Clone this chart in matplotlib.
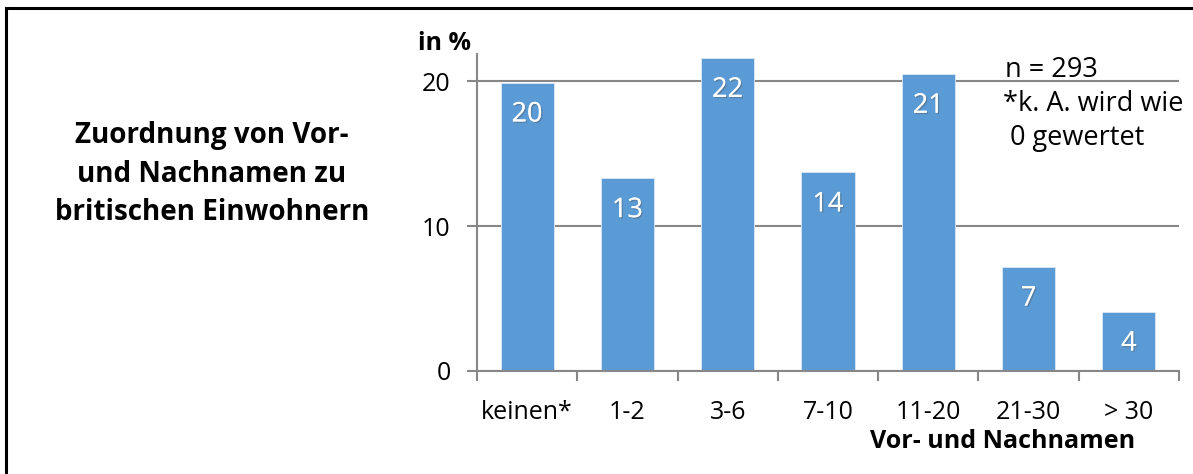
import numpy as np
import matplotlib.pyplot as plt
import matplotlib.patheffects as pe
from matplotlib.lines import Line2D

plt.rcParams['font.family'] = ['Open Sans', 'DejaVu Sans']

# Share of respondents by number of first/last names assigned
categories = ["keinen*", "1-2", "3-6", "7-10", "11-20", "21-30", "> 30"]
values = [19.9, 13.3, 21.6, 13.7, 20.5, 7.2, 4.1]
labels = ["20", "13", "22", "14", "21", "7", "4"]
yticks = [0, 10, 20]

barColour = "#5B9BD5"
gridColour = "#878787"

fig = plt.figure(figsize=(11.93, 4.74), dpi=100)
ax = fig.add_axes([0.3998, 0.2173, 0.5885, 0.6698])

x = np.arange(len(categories))
ax.bar(x, values, width=0.53, color=barColour, edgecolor="#DCE8F5", linewidth=0.6, zorder=2)

# value labels sitting inside the top of each bar
for xi, v, lab in zip(x, values, labels):
    ax.annotate(lab, (xi, v), xytext=(0, -23), textcoords="offset points",
                ha="center", va="center", fontsize=19.5, color="white", zorder=3,
                path_effects=[pe.withSimplePatchShadow(offset=(1, -1), alpha=0.35), pe.Normal()])

ax.set_xlim(-0.5, len(categories) - 0.5)
ax.set_ylim(0, 21.9)

ax.set_yticks(yticks)
ax.set_yticklabels([str(t) for t in yticks], fontsize=18)
ax.yaxis.grid(True, color=gridColour, linewidth=1.5, zorder=0)
ax.set_axisbelow(True)

# category names centred under bars, tick marks between categories
ax.set_xticks(x)
ax.set_xticklabels(categories, fontsize=18)
ax.set_xticks(np.arange(len(categories) + 1) - 0.5, minor=True)
ax.tick_params(axis="x", which="major", length=0, pad=21)
ax.tick_params(axis="x", which="minor", length=7, width=1.5, color=gridColour)
ax.tick_params(axis="y", length=7, width=1.5, color=gridColour, pad=12)

for side in ["top", "right"]:
    ax.spines[side].set_visible(False)
for side in ["left", "bottom"]:
    ax.spines[side].set_color(gridColour)
    ax.spines[side].set_linewidth(1.5)

fig.text(1003 / 1193, 1 - 442 / 474, "Vor- und Nachnamen", fontsize=18, fontweight="bold",
         ha="center", va="center")

fig.text(418 / 1193, 1 - 44 / 474, "in %", fontsize=18, fontweight="bold", ha="left", va="center")

fig.text(1005 / 1193, 1 - 70 / 474, "n = 293", fontsize=19.5, ha="left", va="center")
fig.text(1003 / 1193, 1 - 104 / 474, "*k. A. wird wie", fontsize=19.5, ha="left", va="center")
fig.text(1010 / 1193, 1 - 138 / 474, "0 gewertet", fontsize=19.5, ha="left", va="center")

fig.text(212 / 1193, 1 - 174 / 474, "Zuordnung von Vor-\nund Nachnamen zu\nbritischen Einwohnern",
         fontsize=20, fontweight="bold", ha="center", va="center", linespacing=1.42)

# frame line along the top and left edge
fig.add_artist(Line2D([6 / 1193, 1], [1 - 7.5 / 474, 1 - 7.5 / 474], color="black", linewidth=2.2,
                      transform=fig.transFigure))
fig.add_artist(Line2D([6.5 / 1193, 6.5 / 1193], [0, 1 - 7.5 / 474], color="black", linewidth=2.2,
                      transform=fig.transFigure))

fig.savefig("out.png", dpi=100)
